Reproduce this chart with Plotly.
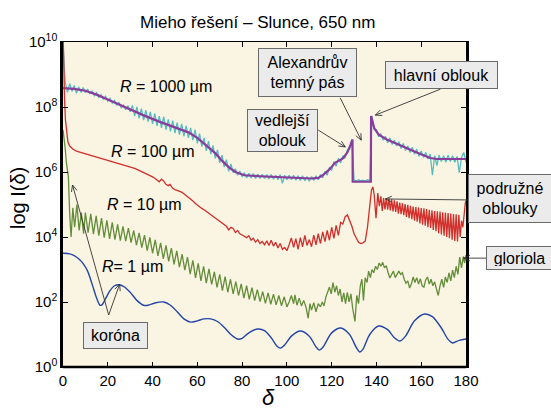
import math
import plotly.graph_objects as go

# ---------------- data (log10 of intensity) ----------------
angle_1deg = list(range(0, 181))

# R = 1000 um, full Mie (noisy, cyan) - 1 degree grid
cyan_log = [9.95,
    8.75, 8.45, 8.72, 8.48, 8.66, 8.42, 8.62, 8.45, 8.6, 8.44,
    8.55, 8.4, 8.5, 8.35, 8.44, 8.3, 8.38, 8.24, 8.33, 8.18,
    8.27, 8.12, 8.2, 8.05, 8.15, 7.98, 8.06, 7.92, 8.04, 7.85,
    8.05, 7.72, 8.0, 7.65, 7.95, 7.6, 7.9, 7.55, 7.85, 7.48,
    7.8, 7.42, 7.72, 7.36, 7.7, 7.3, 7.62, 7.25, 7.58, 7.2,
    7.52, 7.15, 7.48, 7.1, 7.42, 7.05, 7.36, 6.98, 7.3, 6.88,
    7.18, 6.78, 7.05, 6.65, 6.95, 6.55, 6.82, 6.42, 6.68, 6.28,
    6.52, 6.15, 6.38, 6.02, 6.25, 5.98, 6.1, 5.9, 6.03, 5.85,
    5.98, 5.82, 5.96, 5.82, 5.95, 5.8, 5.94, 5.8, 5.93, 5.8,
    5.92, 5.79, 5.92, 5.78, 5.9, 5.76, 5.92, 5.65, 5.9, 5.76,
    5.9, 5.76, 5.9, 5.75, 5.88, 5.74, 5.88, 5.73, 5.86, 5.72,
    5.86, 5.74, 5.88, 5.76, 5.92, 5.82, 6.02, 5.9, 6.15, 6.05,
    6.32, 6.18, 6.42, 6.28, 6.5, 6.42, 6.68, 6.7, 6.98, 5.76,
    5.72, 5.76, 5.73, 5.75, 5.72, 5.76, 5.74, 7.72, 7.3, 7.3,
    7.08, 7.18, 6.98, 7.1, 6.9, 7.05, 6.85, 6.98, 6.8, 6.93,
    6.72, 6.88, 6.66, 6.8, 6.6, 6.76, 6.55, 6.7, 6.48, 6.65,
    6.45, 6.6, 6.4, 6.55, 5.9, 6.5, 6.2, 6.52, 6.32, 6.5,
    6.3, 6.52, 6.32, 6.5, 6.3, 6.48, 5.98, 6.45, 6.6, 6.3]

# R = 1000 um, geometric optics (smooth, purple)
purple_x = [0, 5, 10, 15, 21, 28, 35.8, 43, 51, 56, 60, 64, 68, 71, 74, 77, 81, 88, 96,
            104, 111, 114, 116, 119, 121.5, 125, 127, 128.5, 129.3, 129.4, 137.5, 137.6,
            139, 141, 144.6, 148, 152, 158, 164, 167, 180]
purple_log = [8.58, 8.56, 8.5, 8.38, 8.2, 7.98, 7.75, 7.55, 7.35, 7.22, 7.05, 6.82, 6.58, 6.35,
              6.15, 6.0, 5.9, 5.87, 5.85, 5.83, 5.8, 5.82, 5.9, 6.08, 6.28, 6.42, 6.6, 6.85,
              7.0, 5.7, 5.7, 7.72, 7.35, 7.15, 7.0, 6.9, 6.77, 6.6, 6.43, 6.4, 6.4]

# R = 100 um (red)
red_x = [0, 0.3, 0.7, 1.1, 1.6, 2.2, 3, 4.5, 6, 7, 8, 9, 10, 11, 12, 13, 14, 15, 16, 17, 18, 19,
         20, 21, 22, 23, 24, 25, 26, 27, 28, 29, 30, 31, 32, 33, 34, 35, 36, 37, 38, 39, 40, 41,
         42, 43, 44, 45, 46, 47, 47.8, 49, 50, 51, 52, 53, 54, 55, 56, 57, 58, 59, 60, 61, 62,
         63, 64, 65, 66, 67, 68, 69, 70, 71, 72, 73, 74, 75, 76, 77, 78, 79, 80, 81, 82, 83,
         84, 85, 86, 87, 88, 89, 90, 91, 92, 93, 94, 95, 96, 97, 98, 99, 100, 101, 102, 103,
         104, 105, 106, 107, 108, 109, 110, 111, 112, 113, 114, 115, 116, 117, 118, 119, 120,
         121, 122, 123, 124, 125, 126, 127, 128, 129, 130, 131, 132, 133, 134, 135, 136, 137,
         137.8, 138.4, 139, 139.8, 140.6, 141.3, 142, 142.6, 143.2, 143.8,
         144.4, 145.0, 145.6, 146.2, 146.8, 147.4, 148.0, 148.6, 149.2, 149.8, 150.4, 151.0,
         151.6, 152.2, 152.8, 153.4, 154.0, 154.6, 155.2, 155.8, 156.4, 157.0, 157.6, 158.2,
         158.8, 159.4, 160.0, 160.6, 161.2, 161.8, 162.4, 163.0, 163.6, 164.2, 164.8, 165.4,
         166.0, 166.6, 167.2, 167.8, 168.4, 169.0, 169.6, 170.2, 170.8, 171.4, 172.0, 172.6,
         173.2, 173.8, 174.4, 175.0, 175.6, 176.2, 176.8, 177.4, 178, 178.6, 179.2, 179.7, 180]
red_log = [10.4, 9.2, 8.2, 7.6, 7.2, 6.92, 6.8, 6.7, 6.64, 6.62, 6.6, 6.58, 6.57, 6.55, 6.53,
           6.5, 6.49, 6.46, 6.45, 6.42, 6.41, 6.38, 6.37, 6.35, 6.33, 6.31, 6.29, 6.27, 6.25,
           6.22, 6.2, 6.18, 6.16, 6.13, 6.11, 6.08, 6.05, 6.02, 5.99, 5.96, 5.92, 5.89, 5.85,
           5.81, 5.76, 5.7, 5.78, 5.72, 5.62, 5.58, 5.62, 5.5, 5.46, 5.44, 5.42, 5.38, 5.33,
           5.28, 5.23, 5.18, 5.11, 5.04, 4.98, 4.93, 4.88, 4.84, 4.79, 4.74, 4.68, 4.63, 4.58,
           4.53, 4.48, 4.44, 4.38, 4.33, 4.22, 4.3, 4.26, 4.14, 4.2, 4.1, 4.06, 4.02, 3.98,
           4.04, 3.9, 3.96, 3.84, 3.92, 3.8, 3.86, 3.76, 3.88, 3.74, 3.9, 3.72, 3.84, 3.66,
           3.8, 3.62, 3.68, 3.58, 3.76, 3.97, 3.68, 3.95, 3.62, 3.98, 3.7, 4.05, 3.74, 3.92,
           3.7, 4.06, 3.76, 4.1, 3.8, 4.16, 3.86, 4.2, 3.9, 4.3, 3.96, 4.36, 4.05, 4.45, 4.4,
           4.62, 4.68, 4.52, 4.34, 4.1, 3.96, 3.84, 3.8, 3.82, 3.88, 4.3, 4.95,
           5.45, 5.54, 5.3, 4.58, 5.35, 4.95, 5.25, 4.8, 5.2, 4.85,
           5.2, 4.84, 5.18, 4.82, 5.16, 4.79, 5.13, 4.77, 5.1, 4.72, 5.06, 4.7,
           5.04, 4.67, 5.01, 4.62, 4.99, 4.58, 4.96, 4.55, 4.94, 4.5, 4.92, 4.47,
           4.91, 4.42, 4.89, 4.38, 4.88, 4.35, 4.86, 4.3, 4.84, 4.28, 4.82, 4.22,
           4.8, 4.18, 4.79, 4.12, 4.78, 4.08, 4.76, 4.04, 4.75, 4.0, 4.74, 3.96,
           4.72, 3.92, 4.71, 3.88, 4.7, 3.86, 4.68, 4.0, 4.5, 4.3, 4.85, 5.05, 5.12]

# R = 10 um (green)
green_x = [0, 0.5, 1, 1.5, 2, 2.4, 3, 3.6, 4.4, 5.2, 6.2, 7.2, 8.2, 9.2,
           10, 11.2, 12.4, 13.6, 14.8, 16, 17.2, 18.4, 19.6, 20.8, 22, 23.2, 24.4, 25.6,
           26.8, 28, 29.2, 30.4, 31.6, 32.8, 34, 35.2, 36.4, 37.6, 38.8, 40, 41.2, 42.4,
           43.6, 44.8, 46, 47.2, 48.4, 49.6, 50.8, 52, 53.2, 54.4, 55.6, 56.8, 58, 59.2,
           60.4, 61.6, 62.8, 64, 65.2, 66.4, 67.6, 68.8, 70, 71.2, 72.4, 73.6, 74.8, 76,
           77.2, 78.4, 79.6, 80.8, 82, 83.2, 84.4, 85.6, 86.8, 88, 89.2, 90.4, 91.6, 92.8,
           94, 95.2, 96.4, 97.6, 98.8, 100,
           101, 102, 103, 103.6, 104.5, 105.5, 106.5, 107.5, 108.5, 109.5, 110.3, 111, 112,
           113, 114, 115, 115.8, 116.6, 117.4, 118.2, 119, 119.8, 120.6, 121.4, 122.2, 123,
           123.8, 124.6, 125.4, 126.2, 127, 127.8, 128.6, 129.4, 130.4, 131.2, 132, 132.8,
           133.5, 134.2, 135, 135.8, 136.5, 137.3, 138, 138.8, 139.6, 140.4, 141.2, 142,
           142.8, 143.6, 144.4, 145.2, 146, 146.8, 147.6, 148.4, 149.2, 150, 150.8, 151.6,
           152.4, 153.2, 154, 154.8, 155.6, 156.4, 157.2, 158, 158.8, 159.6, 160.4, 161.2,
           162, 162.8, 163.6, 164.4, 165.2, 166, 166.8, 167.6, 168.4, 169.2, 170, 170.8,
           171.6, 172.4, 173.2, 174, 174.8, 175.6, 176.4, 177.2, 178, 178.8, 179.4, 180]
green_log = [7.3, 7.05, 6.72, 6.3, 5.95, 5.85, 4.7, 4.0, 4.9, 4.3, 5.0, 4.2, 4.75, 4.1,
             4.75, 4.13, 4.71, 4.09, 4.65, 4.04, 4.58, 3.98, 4.51, 3.94, 4.45, 3.92, 4.39, 3.89,
             4.33, 3.87, 4.27, 3.83, 4.2, 3.75, 4.13, 3.67, 4.06, 3.58, 3.99, 3.5, 3.91, 3.42,
             3.82, 3.33, 3.74, 3.25, 3.66, 3.16, 3.57, 3.07, 3.47, 2.98, 3.38, 2.86, 3.28, 2.74,
             3.19, 2.65, 3.1, 2.58, 3.02, 2.54, 2.93, 2.45, 2.85, 2.35, 2.78, 2.3, 2.7, 2.25,
             2.63, 2.2, 2.56, 2.12, 2.5, 2.08, 2.44, 2.04, 2.38, 2.01, 2.32, 1.96, 2.28, 1.93,
             2.24, 1.91, 2.2, 1.88, 2.16, 1.85,
             2.0, 2.2, 1.95, 2.22, 1.9, 2.12, 1.88, 2.05, 1.85, 1.5, 1.95, 1.75, 1.98,
             1.7, 1.95, 1.85, 2.0, 1.88, 2.15, 2.3, 2.46, 2.25, 2.6, 2.3, 2.5, 2.2,
             2.4, 2.0, 2.28, 1.95, 2.3, 2.0, 2.25, 1.8, 1.4, 2.2, 1.95, 2.5,
             2.7, 2.05, 2.75, 2.6, 2.95, 2.75, 3.0, 2.9, 3.1, 3.0, 3.2, 3.1,
             3.22, 3.05, 3.12, 2.9, 2.74, 2.85, 2.95, 2.75, 2.85, 2.95, 2.85, 2.9,
             2.7, 2.58, 2.65, 2.43, 2.55, 2.77, 2.6, 2.75, 2.55, 2.72, 2.5, 2.46,
             2.68, 2.77, 2.55, 2.7, 2.5, 2.62, 2.4, 2.2, 2.5, 2.7, 2.45, 2.77,
             2.6, 2.9, 2.65, 2.98, 2.75, 3.1, 2.85, 3.38, 3.05, 3.4, 3.2, 3.45]

# R = 1 um (blue)
blue_x = [0, 3, 5, 7, 9, 11, 13, 15, 16.5, 17.5, 19, 21, 23, 25, 27, 30, 33, 36, 38, 41, 45,
          48, 51, 54, 57, 60, 63, 66, 69, 72, 75, 78, 80, 83, 87, 90, 93, 95.5, 97, 99, 102,
          106, 110, 113, 114.5, 116, 120, 124, 128, 131, 132.6, 134, 137, 141, 145, 148,
          150.5, 153, 157, 161.5, 165, 169, 172, 174, 177, 180]
blue_log = [3.5, 3.48, 3.43, 3.33, 3.18, 2.95, 2.55, 2.12, 1.9, 1.92, 2.1, 2.35, 2.5, 2.53,
            2.48, 2.3, 2.05, 1.9, 1.9, 1.97, 2.0, 1.9, 1.7, 1.48, 1.38, 1.42, 1.48, 1.48, 1.4,
            1.22, 1.0, 0.86, 0.88, 1.05, 1.17, 1.12, 0.9, 0.65, 0.58, 0.68, 0.95, 1.11, 0.95,
            0.62, 0.52, 0.6, 1.05, 1.2, 1.0, 0.6, 0.46, 0.55, 1.0, 1.26, 1.15, 0.9, 0.8, 0.95,
            1.42, 1.63, 1.55, 1.2, 0.85, 0.74, 0.82, 0.86]

y_tick_exp = [0, 2, 4, 6, 8, 10]
x_ticks = [0, 20, 40, 60, 80, 100, 120, 140, 160, 180]

FONT = "Liberation Sans, Arial, sans-serif"
W, H = 551, 409
L, T, PW, PH = 63, 42, 403, 325
X_MAX, LOG_MAX = 180.0, 10.0


def lin(v):
    return [10 ** a for a in v]


def px_x(p):  # pixel -> paper (plot domain) x
    return (p - L) / PW


def px_y(p):  # pixel -> paper (plot domain) y
    return (T + PH - p) / PH


fig = go.Figure()
fig.add_trace(go.Scatter(x=angle_1deg, y=lin(cyan_log), mode="lines",
                         line=dict(color="#56BCC0", width=1.3)))
fig.add_trace(go.Scatter(x=purple_x, y=lin(purple_log), mode="lines",
                         line=dict(color="#8A3C9C", width=2.2)))
fig.add_trace(go.Scatter(x=red_x, y=lin(red_log), mode="lines",
                         line=dict(color="#D02F2C", width=1.3)))
fig.add_trace(go.Scatter(x=green_x, y=lin(green_log), mode="lines",
                         line=dict(color="#648D3A", width=1.3)))
fig.add_trace(go.Scatter(x=blue_x, y=lin(blue_log), mode="lines",
                         line=dict(color="#2446A8", width=1.4, shape="spline", smoothing=0.8)))

fig.update_layout(
    width=W, height=H,
    margin=dict(l=L, r=W - L - PW, t=T, b=H - T - PH),
    paper_bgcolor="white", plot_bgcolor="#FAF4E2",
    showlegend=False,
    font=dict(family=FONT, color="black"),
)
fig.update_xaxes(range=[0, X_MAX], tickvals=x_ticks, ticks="inside", ticklen=5, tickwidth=1,
                 tickcolor="black", showline=True, linewidth=1, linecolor="black",
                 mirror="ticks", showgrid=False, zeroline=False,
                 tickfont=dict(size=15, family=FONT, color="black"))
fig.update_yaxes(type="log", range=[0, LOG_MAX], tickvals=[10 ** e for e in y_tick_exp],
                 ticktext=["10<sup>%d</sup>" % e for e in y_tick_exp],
                 ticks="inside", ticklen=5, tickwidth=1, tickcolor="black",
                 showline=True, linewidth=2.5, linecolor="black", mirror="ticks",
                 showgrid=False, zeroline=False,
                 tickfont=dict(size=15, family=FONT, color="black"))
# thick bottom axis line
fig.add_shape(type="line", xref="x domain", yref="y domain", x0=0, x1=1, y0=0, y1=0,
              line=dict(color="black", width=2.5))


def paper_text(txt, cx, cy, size, **kw):
    fig.add_annotation(text=txt, xref="paper", yref="paper", x=px_x(cx), y=px_y(cy),
                       xanchor="center", yanchor="middle", showarrow=False,
                       font=dict(size=size, family=FONT, color="black"), **kw)


# title and axis titles
paper_text("Mieho řešení – Slunce, 650 nm", 257, 22, 17)
paper_text("log I(δ)", 18, 198, 20, textangle=-90)
paper_text("<i>δ</i>", 268, 397, 22)

# curve labels
for txt, cx, cy in [("<i>R</i> = 1000 µm", 166, 87), ("<i>R</i> = 100 µm", 152, 151),
                    ("<i>R</i> = 10 µm", 144, 204), ("<i>R</i>= 1 µm", 132, 266)]:
    paper_text(txt, cx, cy, 16)

# boxed labels (centres in pixels)
boxes = [("Alexandrův<br>temný pás", 307, 72, 91, 41),
         ("hlavní oblouk", 441, 75, 105, 20),
         ("vedlejší<br>oblouk", 282, 130, 63, 35),
         ("podružné<br>oblouky", 510, 198, 76, 41),
         ("gloriola", 519, 258, 59, 16),
         ("koróna", 115, 335, 57, 19)]
for txt, cx, cy, w, h in boxes:
    paper_text(txt, cx, cy, 16, bgcolor="#EBEBEB", bordercolor="#6A6A6A", borderwidth=1,
               borderpad=3, width=w, height=h)

# arrows (tail -> head, in data coordinates: degrees, log10 I) drawn as open-headed lines
arrows = [(123.8, 8.28, 133.2, 6.98), (168.6, 8.55, 139.5, 7.75), (114.0, 7.29, 126.1, 6.77),
          (181.6, 5.14, 144.0, 5.17), (189.2, 3.35, 178.9, 3.35),
          (20.4, 1.6, 25.3, 2.55), (20.4, 1.6, 4.25, 5.6)]


def data_to_px(x, ylog):
    return L + x / X_MAX * PW, T + PH - ylog / LOG_MAX * PH


HEAD_LEN, HEAD_ANG = 7.0, math.radians(24)
for tx, ty, hx, hy in arrows:
    x0, y0 = data_to_px(tx, ty)
    x1, y1 = data_to_px(hx, hy)
    ang = math.atan2(y0 - y1, x0 - x1)
    pts = []
    for s in (-1, 1):
        a = ang + s * HEAD_ANG
        pts.append((x1 + HEAD_LEN * math.cos(a), y1 + HEAD_LEN * math.sin(a)))

    def P(px, py):
        return "%.5f,%.5f" % (px_x(px), px_y(py))

    path = "M %s L %s M %s L %s L %s" % (P(x0, y0), P(x1, y1), P(*pts[0]), P(x1, y1),
                                          P(*pts[1]))
    fig.add_shape(type="path", xref="paper", yref="paper", path=path,
                  line=dict(color="#333333", width=0.9))

fig.write_html("out.html", config={"displayModeBar": False},
               post_script="document.body.style.margin='0px';")
